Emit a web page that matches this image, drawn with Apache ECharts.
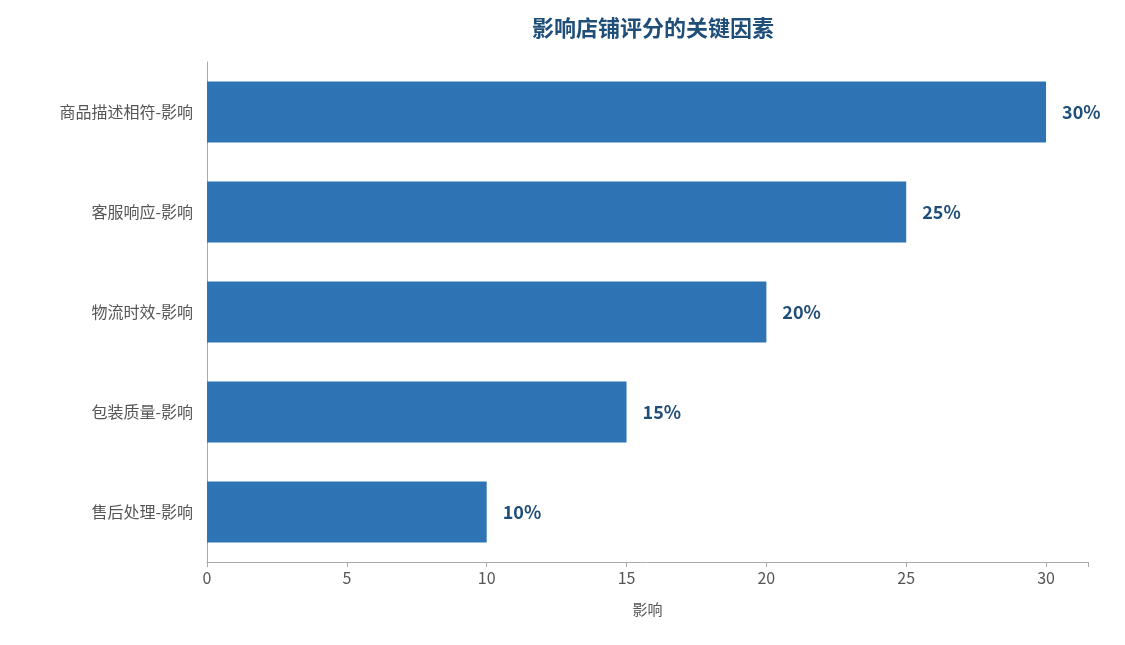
<!DOCTYPE html>
<html><head><meta charset="utf-8">
<script src="https://cdn.jsdelivr.net/npm/echarts@6/dist/echarts.min.js"></script>
<style>html,body{margin:0;padding:0;background:#fff}#c{width:1125px;height:645px}</style>
</head><body><div id="c"></div>
<script>
const categories = ['售后处理-影响','包装质量-影响','物流时效-影响','客服响应-影响','商品描述相符-影响'];
const values = [10,15,20,25,30];
const xTicks = [0,5,10,15,20,25,30];
const font = '"Noto Sans CJK SC","Noto Sans",sans-serif';
const chart = echarts.init(document.getElementById('c'));
chart.setOption({
  textStyle:{fontFamily:font},
  title:{text:'影响店铺评分的关键因素',left:648,top:12,textAlign:'center',
    textStyle:{color:'#1f4e79',fontSize:22,fontWeight:'bold',fontFamily:font}},
  grid:{left:207,right:37,top:62,bottom:83,containLabel:false},
  xAxis:{type:'value',min:0,max:31.5,interval:5,name:'影响',nameLocation:'middle',nameGap:40,
    nameTextStyle:{color:'#555',fontSize:15},
    axisLine:{show:true,lineStyle:{color:'#aaa'}},axisTick:{show:true,lineStyle:{color:'#aaa'}},
    splitLine:{show:false},
    axisLabel:{color:'#555',fontSize:16,formatter:v=>xTicks.includes(v)?String(v):''}},
  yAxis:{type:'category',data:categories,
    axisLine:{lineStyle:{color:'#aaa'}},axisTick:{show:false},
    axisLabel:{color:'#555',fontSize:16,margin:14}},
  series:[{type:'bar',data:values,barWidth:'61%',itemStyle:{color:'#2e74b5'},
    label:{show:true,position:'right',distance:16,formatter:'{c}%',color:'#1f4e79',fontSize:18,fontWeight:'bold'}}]
});
</script></body></html>
